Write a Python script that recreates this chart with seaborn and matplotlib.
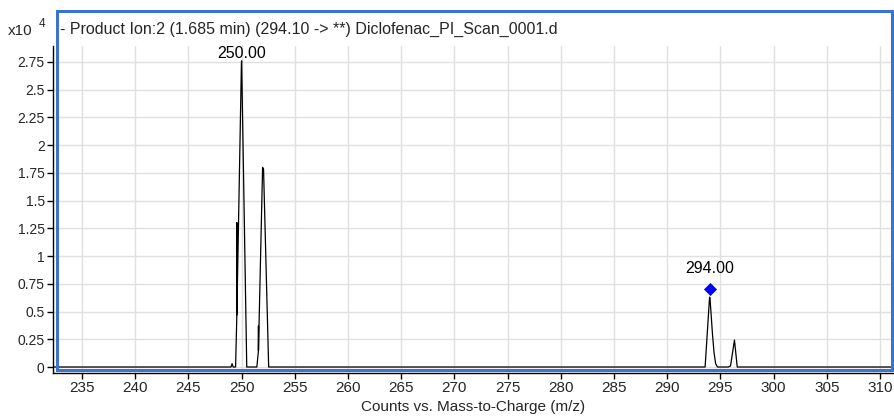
import numpy as np
import pandas as pd
import matplotlib
matplotlib.use("Agg")
import matplotlib.pyplot as plt
import matplotlib.font_manager as fm
from matplotlib.patches import Rectangle
import seaborn as sns

# ---- data (counts in units of 10^4) ----
mz = [232.3, 249.0, 249.1, 249.2, 249.43, 249.55, 249.55, 249.55, 249.98, 250.0, 250.48,
      251.43, 251.58, 251.58, 251.58, 251.97, 252.06, 252.54,
      293.56, 293.98, 294.02, 294.25, 294.40, 294.55, 294.72,
      295.75, 295.95, 296.32, 296.58, 311.3]
counts = [0.0, 0.0, 0.03, 0.0, 0.0, 0.47, 1.30, 0.47, 2.74, 2.76, 0.0,
          0.0, 0.15, 0.37, 0.15, 1.80, 1.78, 0.0,
          0.0, 0.63, 0.62, 0.30, 0.13, 0.03, 0.0,
          0.0, 0.01, 0.243, 0.0, 0.0]

peak_mz = [250.0, 294.0]
peak_labels = ["250.00", "294.00"]
peak_label_y = [2.83, 0.89]
marker_mz = [294.0]
marker_y = [0.70]

x_ticks = list(range(235, 311, 5))
y_ticks = [0, 0.25, 0.5, 0.75, 1, 1.25, 1.5, 1.75, 2, 2.25, 2.5, 2.75]

title = "- Product Ion:2 (1.685 min) (294.10 -> **) Diclofenac_PI_Scan_0001.d"
xlabel = "Counts vs. Mass-to-Charge (m/z)"

# ---- fonts ----
names = {f.name for f in fm.fontManager.ttflist}
narrow = "Liberation Sans Narrow" if "Liberation Sans Narrow" in names else "Liberation Sans"
sns.set_style("white")
plt.rcParams["font.family"] = ["Liberation Sans", "DejaVu Sans"]

W, H = 895, 416
fig = plt.figure(figsize=(W / 100, H / 100), dpi=100)
ax = fig.add_axes([53 / W, (H - 373) / H, (893 - 53) / W, (373 - 46) / H])

df = pd.DataFrame({"mz": mz, "counts": counts})
sns.lineplot(data=df, x="mz", y="counts", sort=False, estimator=None,
             color="black", linewidth=0.9, ax=ax, zorder=3)
sns.scatterplot(x=marker_mz, y=marker_y, marker="D", s=38, color="#0000ff",
                edgecolor="#0000ff", ax=ax, zorder=4)
for xm, lab, yl in zip(peak_mz, peak_labels, peak_label_y):
    ax.text(xm, yl, lab, ha="center", va="center", fontsize=11.5, color="black")

ax.set_xlim(232.27, 311.22)
ax.set_ylim(-0.054, 2.894)
ax.set_xticks(x_ticks)
ax.set_xticklabels([str(t) for t in x_ticks], fontfamily=narrow, fontsize=11)
ax.set_yticks(y_ticks)
ax.set_yticklabels([f"{v:g}" for v in y_ticks], fontfamily=narrow, fontsize=10)
ax.grid(True, color="#e0e0e0", linewidth=1.0)
ax.set_axisbelow(True)
ax.set_xlabel(xlabel, fontfamily=narrow, fontsize=11, labelpad=3)
ax.set_ylabel("")
ax.tick_params(axis="both", direction="out", length=4, width=1, color="black",
               left=True, bottom=True, pad=2)
for s in ["top", "right"]:
    ax.spines[s].set_visible(False)
for s in ["left", "bottom"]:
    ax.spines[s].set_color("black")
    ax.spines[s].set_linewidth(1.0)

# blue frame
fig.patches.append(Rectangle((57 / W, (H - 370) / H), (892 - 57) / W, (370 - 11) / H,
                             transform=fig.transFigure, fill=False,
                             edgecolor="#3b73d0", linewidth=2.2, zorder=10))

fig.text(60 / W, (H - 29) / H, title, ha="left", va="center", fontsize=11.5)
fig.text(8 / W, (H - 31) / H, "x10", ha="left", va="center", fontsize=11)
fig.text(39 / W, (H - 24) / H, "4", ha="left", va="center", fontsize=8.5)

fig.savefig("out.png", dpi=100)
